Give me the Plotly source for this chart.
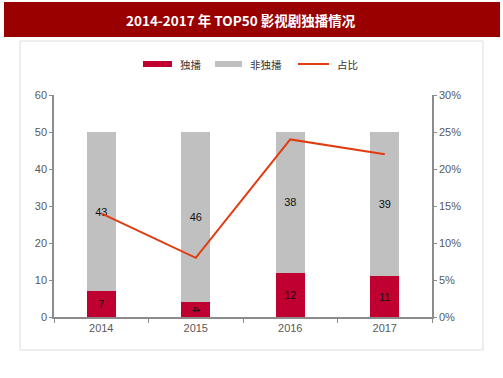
import plotly.graph_objects as go

years = ["2014", "2015", "2016", "2017"]
exclusive = [7, 4, 12, 11]
non_exclusive = [43, 46, 38, 39]
share = [0.14, 0.08, 0.24, 0.22]

W, H = 503, 378
L, R, T, B = 54, 71, 95, 61
PW, PH = W - L - R, H - T - B

def px(x):
    return (x - L) / PW

def py(y):
    return (H - B - y) / PH

RED = "#C00030"
GRAY = "#C0C0C0"
LINE = "#E03C10"
AX = "#8C8C8C"
TXT = "#595959"

fig = go.Figure()
fig.add_trace(go.Bar(x=years, y=exclusive, name="独播", marker_color=RED,
                     text=exclusive, textposition="inside", insidetextanchor="middle",
                     constraintext="none",
                     textfont=dict(color="#111", size=11, family="Liberation Sans"),
                     width=0.31, marker_line_width=0))
fig.add_trace(go.Bar(x=years, y=non_exclusive, name="非独播", marker_color=GRAY,
                     text=non_exclusive, textposition="inside", insidetextanchor="middle",
                     constraintext="none",
                     textfont=dict(color="#111", size=11, family="Liberation Sans"),
                     width=0.31, marker_line_width=0))
fig.add_trace(go.Scatter(x=years, y=share, name="占比", mode="lines",
                         line=dict(color=LINE, width=2), yaxis="y2"))

shapes = []
annotations = []
# outer panel
shapes.append(dict(type="rect", xref="paper", yref="paper", x0=px(20), x1=px(483),
                   y0=py(350), y1=py(41), line=dict(color="#DDDDDD", width=1),
                   fillcolor="rgba(0,0,0,0)", layer="below"))
# title bar
shapes.append(dict(type="rect", xref="paper", yref="paper", x0=px(4), x1=px(500),
                   y0=py(37), y1=py(2), line=dict(width=0), fillcolor="#990000",
                   layer="below"))
annotations.append(dict(text="<b>2014-2017 年 TOP50 影视剧独播情况</b>", xref="paper", yref="paper",
                        x=px(241), y=py(20), showarrow=False, xanchor="center", yanchor="middle",
                        font=dict(color="white", size=13.5, family="Noto Sans CJK SC")))
# legend
leg_y = 64
items = [(143, 172, RED, "rect", "独播"), (215, 242, GRAY, "rect", "非独播"),
         (298, 329, LINE, "line", "占比")]
for x0, x1, c, kind, label in items:
    if kind == "rect":
        shapes.append(dict(type="rect", xref="paper", yref="paper", x0=px(x0), x1=px(x1),
                           y0=py(leg_y + 3), y1=py(leg_y - 3), line=dict(width=0), fillcolor=c))
    else:
        shapes.append(dict(type="line", xref="paper", yref="paper", x0=px(x0), x1=px(x1),
                           y0=py(leg_y), y1=py(leg_y), line=dict(color=c, width=2)))
    annotations.append(dict(text=label, xref="paper", yref="paper", x=px(x1 + 6), y=py(leg_y),
                            showarrow=False, xanchor="left", yanchor="middle",
                            font=dict(color="#333", size=10.5, family="Noto Sans CJK SC")))

fig.update_layout(
    template="none",
    width=W, height=H, margin=dict(l=L, r=R, t=T, b=B),
    barmode="stack", showlegend=False,
    paper_bgcolor="white", plot_bgcolor="white",
    font=dict(family="Liberation Sans", size=11, color=TXT),
    xaxis=dict(type="category", showline=True, linecolor=AX, linewidth=1.5,
               ticks="outside", tickson="boundaries", ticklen=4, tickcolor=AX,
               showgrid=False, tickfont=dict(size=11, color=TXT)),
    yaxis=dict(range=[0, 60], dtick=10, showline=True, linecolor=AX, linewidth=1.5,
               ticks="outside", ticklen=3, tickcolor=AX, showgrid=False, zeroline=False,
               tickfont=dict(size=11, color=TXT)),
    yaxis2=dict(range=[0, 0.30], dtick=0.05, tickformat=".0%", overlaying="y", side="right",
                showline=True, linecolor=AX, linewidth=1.5, ticks="outside", ticklen=3,
                tickcolor=AX, showgrid=False, zeroline=False, tickfont=dict(size=11, color=TXT)),
    shapes=shapes, annotations=annotations,
)

fig.write_html("out.html", config={"displayModeBar": False},
               post_script="document.body.style.margin='0';document.body.style.overflow='hidden';")
